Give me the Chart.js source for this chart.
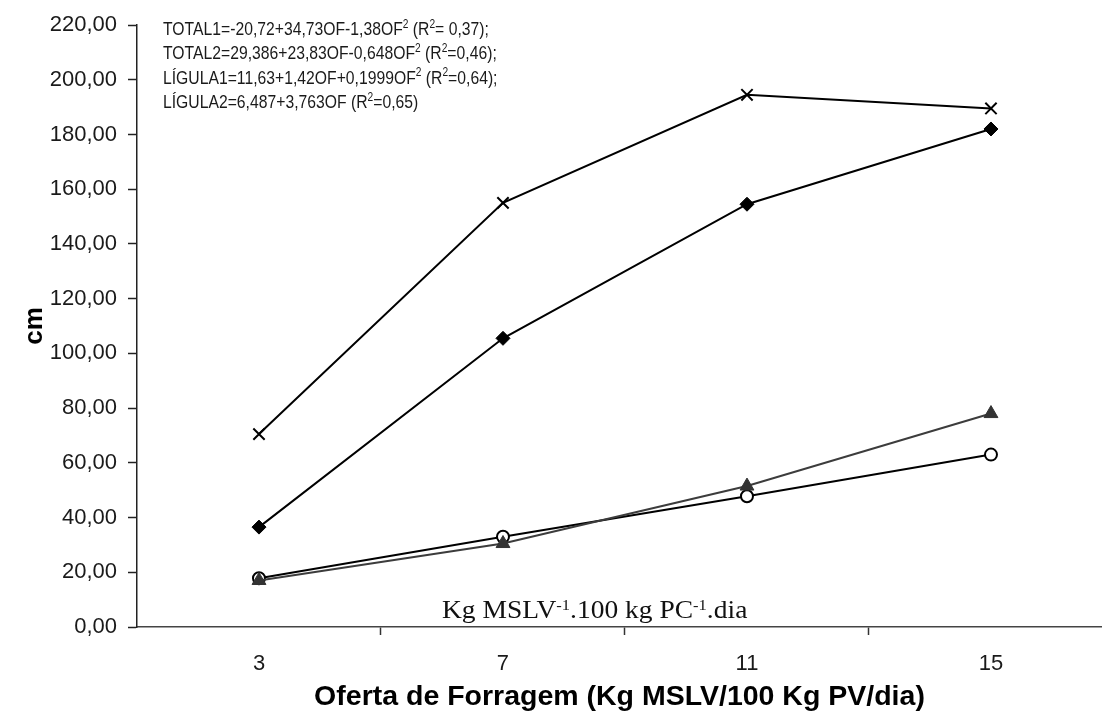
<!DOCTYPE html>
<html>
<head>
<meta charset="utf-8">
<script src="https://cdn.jsdelivr.net/npm/chart.js@4.4.1/dist/chart.umd.min.js"></script>
<style>
html,body{margin:0;padding:0;background:#fff;overflow:hidden;width:1102px;height:715px;}
#wrap{width:1112px;height:715px;position:relative;}
</style>
</head>
<body>
<div id="wrap"><canvas id="c"></canvas></div>
<script>
// ---- data ----
const ofertas = [3, 7, 11, 15];
const total1  = [70.5, 155.0, 194.5, 189.5];
const total2  = [36.5, 105.5, 154.5, 182.0];
const ligula1 = [17.0, 30.5, 51.5, 78.0];
const ligula2 = [17.8, 33.0, 47.8, 63.0];
const boundaryTicks = [5, 9, 13];
const seriesNames = ['TOTAL1', 'TOTAL2', 'LÍGULA1', 'LÍGULA2'];
const yTitle = 'cm';
const xTitle = 'Oferta de Forragem (Kg MSLV/100 Kg PV/dia)';
const equations = [
  [['TOTAL1=-20,72+34,73OF-1,38OF',0],['2',1],[' (R',0],['2',1],['= 0,37);',0]],
  [['TOTAL2=29,386+23,83OF-0,648OF',0],['2',1],[' (R',0],['2',1],['=0,46);',0]],
  [['LÍGULA1=11,63+1,42OF+0,1999OF',0],['2',1],[' (R',0],['2',1],['=0,64);',0]],
  [['LÍGULA2=6,487+3,763OF (R',0],['2',1],['=0,65)',0]]
];
const unitText = [['Kg MSLV',0],['-1',1],['.100 kg PC',0],['-1',1],['.dia',0]];

const pts = arr => ofertas.map((x, i) => ({x: x, y: arr[i]}));

const annot = {
  id: 'annot',
  afterDraw(chart) {
    const ctx = chart.ctx;
    ctx.save();
    ctx.fillStyle = '#1a1a1a';
    ctx.textBaseline = 'alphabetic';
    ctx.textAlign = 'left';
    equations.forEach((segs, i) => {
      ctx.save();
      ctx.translate(163, 35 + i * 24.4);
      ctx.scale(0.85, 1);
      let cx = 0;
      segs.forEach(([t, sup]) => {
        ctx.font = sup ? '12px "Liberation Sans", Arial, sans-serif' : '18.5px "Liberation Sans", Arial, sans-serif';
        ctx.fillText(t, cx, sup ? -7.5 : 0);
        cx += ctx.measureText(t).width;
      });
      ctx.restore();
    });
    // unit text (serif)
    ctx.fillStyle = '#111';
    ctx.save();
    ctx.translate(442, 618);
    ctx.scale(1.1, 1);
    let ux = 0;
    unitText.forEach(([t, sup]) => {
      ctx.font = sup ? '15px "Liberation Serif", "Times New Roman", serif' : '25px "Liberation Serif", "Times New Roman", serif';
      ctx.fillText(t, ux, sup ? -8 : 0);
      ux += ctx.measureText(t).width;
    });
    ctx.restore();
    ctx.restore();
  }
};

new Chart(document.getElementById('c'), {
  type: 'line',
  data: {
    datasets: [
      { label: seriesNames[0], data: pts(total1), borderColor: '#000', borderWidth: 2,
        pointStyle: 'crossRot', pointRadius: 8, pointBorderWidth: 2, pointBorderColor: '#000', pointBackgroundColor: '#000' },
      { label: seriesNames[1], data: pts(total2), borderColor: '#000', borderWidth: 2,
        pointStyle: 'rectRot', pointRadius: 7, pointBorderWidth: 1, pointBorderColor: '#000', pointBackgroundColor: '#000' },
      { label: seriesNames[2], data: pts(ligula1), borderColor: '#3c3c3c', borderWidth: 2,
        pointStyle: 'triangle', pointRadius: 8, pointBorderWidth: 1, pointBorderColor: '#333', pointBackgroundColor: '#333' },
      { label: seriesNames[3], data: pts(ligula2), borderColor: '#000', borderWidth: 2,
        pointStyle: 'circle', pointRadius: 6, pointBorderWidth: 2, pointBorderColor: '#000', pointBackgroundColor: '#fff' }
    ]
  },
  options: {
    responsive: true,
    maintainAspectRatio: false,
    animation: false,
    layout: { padding: { top: 25, right: 0, bottom: 0, left: 0 } },
    plugins: { legend: { display: false }, tooltip: { enabled: false } },
    elements: { line: { tension: 0 } },
    scales: {
      x: {
        type: 'linear',
        min: 1,
        max: 16.82,
        afterBuildTicks(scale) {
          scale.ticks = ofertas.concat(boundaryTicks).sort((a, b) => a - b).map(v => ({value: v}));
        },
        afterFit(scale) { scale.height = 88; },
        ticks: {
          autoSkip: false,
          maxRotation: 0,
          padding: 16,
          color: '#1a1a1a',
          font: { family: '"Liberation Sans", Arial, sans-serif', size: 22 },
          callback: v => ofertas.includes(v) ? String(v) : ''
        },
        grid: {
          drawOnChartArea: false,
          drawTicks: true,
          tickLength: 8,
          tickWidth: 1.5,
          color: c => (c.tick && boundaryTicks.includes(c.tick.value)) ? '#333' : 'rgba(0,0,0,0)',
          tickColor: c => (c.tick && boundaryTicks.includes(c.tick.value)) ? '#333' : 'rgba(0,0,0,0)'
        },
        border: { display: true, color: '#444', width: 1.5 },
        title: {
          display: true,
          text: xTitle,
          color: '#000',
          font: { family: '"Liberation Sans", Arial, sans-serif', size: 28.5, weight: 'bold' },
          padding: { top: 0, bottom: 1 }
        }
      },
      y: {
        min: 0,
        max: 220,
        afterFit(scale) { scale.width = 137; },
        ticks: {
          stepSize: 20,
          padding: 11,
          color: '#1a1a1a',
          font: { family: '"Liberation Sans", Arial, sans-serif', size: 22 },
          callback: v => v.toFixed(2).replace('.', ',')
        },
        grid: {
          drawOnChartArea: false,
          drawTicks: true,
          tickLength: 9,
          tickWidth: 1.5,
          tickColor: '#222'
        },
        border: { display: true, color: '#222', width: 1.5 },
        title: {
          display: true,
          text: yTitle,
          color: '#000',
          font: { family: '"Liberation Sans", Arial, sans-serif', size: 26, weight: 'bold' },
          padding: { top: 19, bottom: 0 }
        }
      }
    }
  },
  plugins: [annot]
});
</script>
</body>
</html>
